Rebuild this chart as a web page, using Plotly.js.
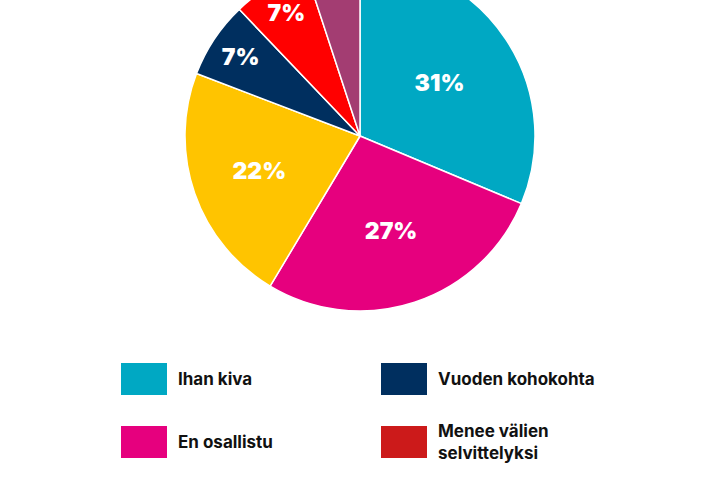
<!DOCTYPE html>
<html>
<head>
<meta charset="utf-8">
<script src="https://cdn.plot.ly/plotly-3.0.1.min.js"></script>
<style>
html,body{margin:0;padding:0;overflow:hidden;background:#fff;width:720px;height:480px;}
#chart{position:absolute;left:0;top:-60px;width:720px;height:540px;}
</style>
</head>
<body>
<div id="chart"></div>
<script>
const labels = ["Ihan kiva", "En osallistu", "Ei ainakaan", "Vuoden kohokohta", "Menee välien selvittelyksi", "Muu"];
const values = [31, 27, 22, 7, 7, 5];
const colors = ["#00A8C3", "#E6007E", "#FFC400", "#002F5F", "#FF0000", "#A33D72"];
const legendLabels = ["Ihan kiva", "Vuoden kohokohta", "En osallistu", "Menee välien<br>selvittelyksi"];
const legendColors = ["#00A8C3", "#002F5F", "#E6007E", "#CC1A1A"];

const H = 540, W = 720, OFF = 60;
const py = v => 1 - (v + OFF) / H; // page y -> paper y
const px = v => v / W;

const legendPos = [[121, 363], [381, 363], [121, 426], [381, 426]];
const shapes = [], annotations = [];
legendLabels.forEach((t, i) => {
  const [x, y] = legendPos[i];
  shapes.push({type: "rect", xref: "paper", yref: "paper",
    x0: px(x), x1: px(x + 46), y0: py(y + 32), y1: py(y),
    fillcolor: legendColors[i], line: {width: 0}});
  annotations.push({xref: "paper", yref: "paper", x: px(x + 55), y: py(y + 16),
    xanchor: "left", yanchor: "middle", align: "left", showarrow: false,
    text: t, font: {family: "Inter, 'Open Sans', sans-serif", size: 17, color: "#111", weight: 700}});
});

const trace = {
  type: "pie",
  labels: labels,
  values: values,
  sort: false,
  direction: "clockwise",
  rotation: 0,
  marker: {colors: colors, line: {color: "#ffffff", width: 1.5}},
  texttemplate: "%{value}%",
  textposition: "inside",
  insidetextorientation: "horizontal",
  textfont: {family: "Inter, 'Open Sans', sans-serif", size: 23, color: "#ffffff", weight: 900},
  hoverinfo: "none",
  domain: {x: [0, 1], y: [(H - (136 + OFF) - 175) / H, (H - (136 + OFF) + 175) / H]}
};

Plotly.newPlot("chart", [trace], {
  width: W, height: H,
  margin: {l: 0, r: 0, t: 0, b: 0},
  paper_bgcolor: "#ffffff",
  showlegend: false,
  shapes: shapes,
  annotations: annotations
}, {staticPlot: true});
</script>
</body>
</html>
